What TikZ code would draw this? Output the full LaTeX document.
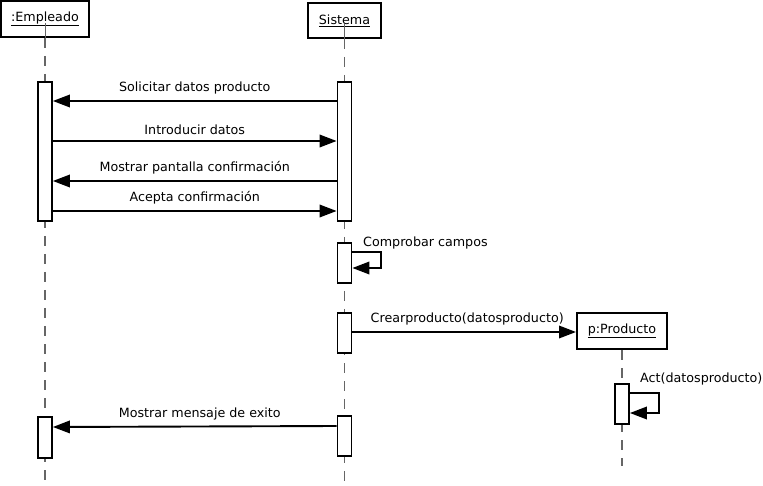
\documentclass[tikz,border=0pt]{standalone}
\usepackage{fontspec}
\setmainfont{DejaVu Sans}
\usetikzlibrary{arrows.meta}
\begin{document}
\begin{tikzpicture}[x=1pt,y=-1pt,
  every node/.style={font=\fontsize{12.7}{15}\selectfont},
  objbox/.style={draw, line width=2pt, inner sep=0pt, fill=white},
  actbox/.style={draw, line width=1.8pt, inner sep=0pt, fill=white, minimum width=14pt},
  lifeline/.style={draw=black!60, line width=1.4pt, dash pattern=on 10pt off 8pt},
  msg/.style={line width=1.9pt, -{Triangle[length=17pt,width=12.5pt]}},
  lbl/.style={above=2.5pt, inner sep=3pt}
]
\useasboundingbox (0,0) rectangle (763,486);
% headers
\node[objbox, minimum width=88pt, minimum height=36pt] (emp) at (45,19) {\underline{:Empleado}};
\node[objbox, minimum width=73pt, minimum height=35pt] (sis) at (344.5,20.5) {\underline{Sistema}};
\node[objbox, minimum width=90pt, minimum height=36pt] (prod) at (622,331) {\underline{p:Producto}};
% lifelines
\coordinate (empend) at (45,484);
\coordinate (sisend) at (344.5,484);
\coordinate (prodend) at (622,466);
\draw[lifeline] (emp.south) -- (empend);
\draw[lifeline] (sis.south) -- (sisend);
\draw[lifeline] (prod.south) -- (prodend);
\draw[draw=black!60, line width=1pt] (45,23) -- (emp.south);
\draw[draw=black!60, line width=1pt] (344.5,24) -- (sis.south);
% activations
\node[actbox, anchor=north, minimum height=139pt] (e1) at (45,81) {};
\node[actbox, anchor=north, minimum height=139pt] (s1) at (344.5,81) {};
\node[actbox, anchor=north, minimum height=40pt] (s2) at (344.5,242) {};
\node[actbox, anchor=north, minimum height=40pt] (s3) at (344.5,312) {};
\node[actbox, anchor=north, minimum height=40pt] (p1) at (622,383) {};
\node[actbox, anchor=north, minimum height=41pt] (e2) at (45,416) {};
\node[actbox, anchor=north, minimum height=40pt] (s4) at (344.5,415) {};
% messages
\draw[msg] (s1.west |- 0,101) -- node[lbl] {Solicitar datos producto} (e1.east |- 0,101);
\draw[msg] (e1.east |- 0,141) -- node[lbl] {Introducir datos} (s1.west |- 0,141);
\draw[msg] (s1.west |- 0,181) -- node[lbl] {Mostrar pantalla confirmación} (e1.east |- 0,181);
\draw[msg] (e1.east |- 0,211) -- node[lbl] {Acepta confirmación} (s1.west |- 0,211);
\draw[msg] (s2.east |- 0,252) -- ++(29,0) |- (s2.east |- 0,268);
\node[anchor=west, inner sep=0pt] (lcomp) at (363,242.5) {Comprobar campos};
\draw[msg] (s3.east |- 0,332) -- node[lbl, xshift=3pt] {Crearproducto(datosproducto)} (prod.west |- 0,332);
\draw[msg] (p1.east |- 0,393) -- ++(29,0) |- (p1.east |- 0,413);
\node[anchor=west, inner sep=0pt] (lact) at (640,378.5) {Act(datosproducto)};
\draw[msg] (s4.west |- 0,426) -- node[lbl, xshift=5pt] {Mostrar mensaje de exito} (e2.east |- 0,427);
\end{tikzpicture}
\end{document}
